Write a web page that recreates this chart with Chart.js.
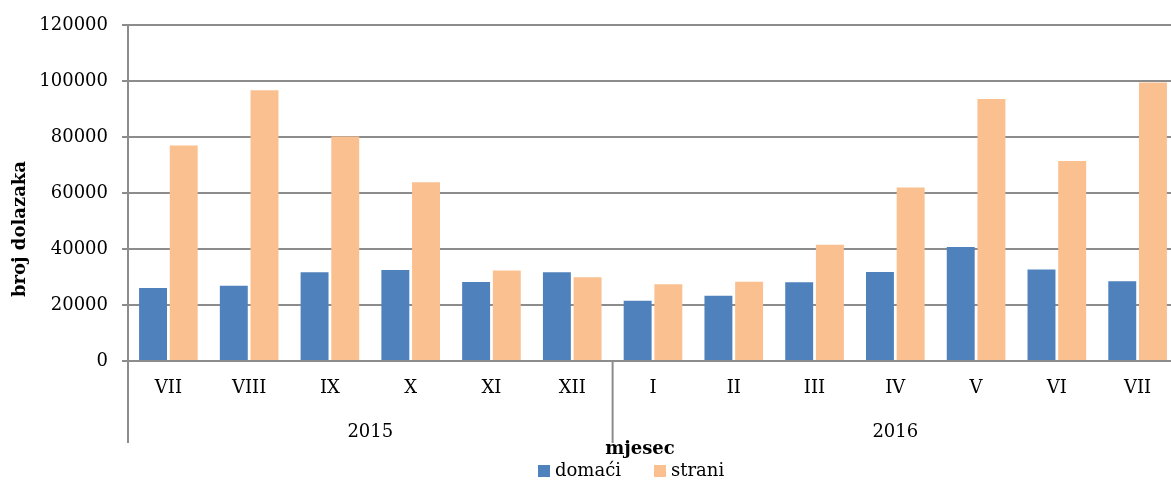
<!DOCTYPE html>
<html>
<head>
<meta charset="utf-8">
<script src="https://cdn.jsdelivr.net/npm/chart.js"></script>
<style>
  html, body { margin: 0; padding: 0; background: #fff; overflow: hidden; }
  #wrap { width: 1178px; height: 481px; }
</style>
</head>
<body>
<div id="wrap"><canvas id="arrivals-chart"></canvas></div>
<script>
  // data
  const months = ['VII','VIII','IX','X','XI','XII','I','II','III','IV','V','VI','VII'];
  const years = ['2015','2016'];
  const monthsPerYear = [6, 7];
  const domaci = [26100,26900,31700,32500,28200,31700,21500,23300,28100,31800,40700,32700,28500];
  const strani = [77000,96700,80200,63800,32300,29900,27400,28300,41500,62000,93600,71400,99500];
  const yMax = 120000;
  const yStep = 20000;

  const FONT = 'DejaVu Serif';
  const GRID = '#8c8c8c';

  // year groups, axis extension lines, axis titles and legend
  const extras = {
    id: 'extras',
    afterDraw(chart) {
      const ctx = chart.ctx;
      const x = chart.scales.x;
      const area = chart.chartArea;
      const half = (x.getPixelForValue(1) - x.getPixelForValue(0)) / 2;
      ctx.save();
      ctx.strokeStyle = GRID;
      ctx.lineWidth = 2;
      ctx.fillStyle = '#000';
      ctx.font = '18px "' + FONT + '"';
      ctx.textAlign = 'center';
      ctx.textBaseline = 'middle';

      // left axis goes down past the labels
      ctx.beginPath();
      ctx.moveTo(area.left, area.bottom);
      ctx.lineTo(area.left, 443);
      ctx.stroke();

      let start = 0;
      years.forEach(function(yr, i) {
        const end = start + monthsPerYear[i] - 1;
        const l = x.getPixelForValue(start) - half;
        const r = x.getPixelForValue(end) + half;
        ctx.fillText(yr, (l + r) / 2, 432);
        if (i < years.length - 1) {
          ctx.beginPath();
          ctx.moveTo(r, area.bottom);
          ctx.lineTo(r, 443);
          ctx.stroke();
        }
        start = end + 1;
      });

      // x axis title
      ctx.font = 'bold 18px "' + FONT + '"';
      ctx.fillText('mjesec', 640, 449);

      // y axis title
      ctx.save();
      ctx.translate(20, 229);
      ctx.rotate(-Math.PI / 2);
      ctx.fillText('broj dolazaka', 0, 0);
      ctx.restore();

      // legend
      ctx.font = '18px "' + FONT + '"';
      ctx.textAlign = 'left';
      const lx = [538, 654];
      chart.data.datasets.forEach(function(ds, i) {
        ctx.fillStyle = ds.backgroundColor;
        ctx.fillRect(lx[i], 465, 12, 12);
        ctx.fillStyle = '#000';
        ctx.fillText(ds.label, lx[i] + 17, 471);
      });
      ctx.restore();
    }
  };

  const el = document.getElementById('arrivals-chart');
  const arrivalsChart = new Chart(el, {
    type: 'bar',
    data: {
      labels: months,
      datasets: [{
        label: 'domaći',
        data: domaci,
        backgroundColor: '#4f81bd'
      },{
        label: 'strani',
        data: strani,
        backgroundColor: '#fac090'
      }]
    },
    options: {
      responsive: true,
      maintainAspectRatio: false,
      animation: false,
      categoryPercentage: 0.76,
      barPercentage: 0.91,
      layout: { padding: { top: 25, right: 0, bottom: 0, left: 0 } },
      plugins: {
        legend: { display: false },
        tooltip: { enabled: false }
      },
      scales: {
        x: {
          grid: { display: false, drawTicks: false },
          border: { display: false },
          ticks: {
            color: '#000',
            padding: 17,
            font: { family: FONT, size: 18 }
          },
          afterFit: function(scale) { scale.height = 120; }
        },
        y: {
          min: 0,
          max: yMax,
          grid: { color: GRID, lineWidth: 2, tickLength: 6 },
          border: { color: GRID, width: 2 },
          ticks: {
            stepSize: yStep,
            color: '#000',
            padding: 14,
            font: { family: FONT, size: 18 },
            callback: function(v) { return String(v); }
          },
          afterFit: function(scale) { scale.width = 128; }
        }
      }
    },
    plugins: [extras]
  });
</script>
</body>
</html>
